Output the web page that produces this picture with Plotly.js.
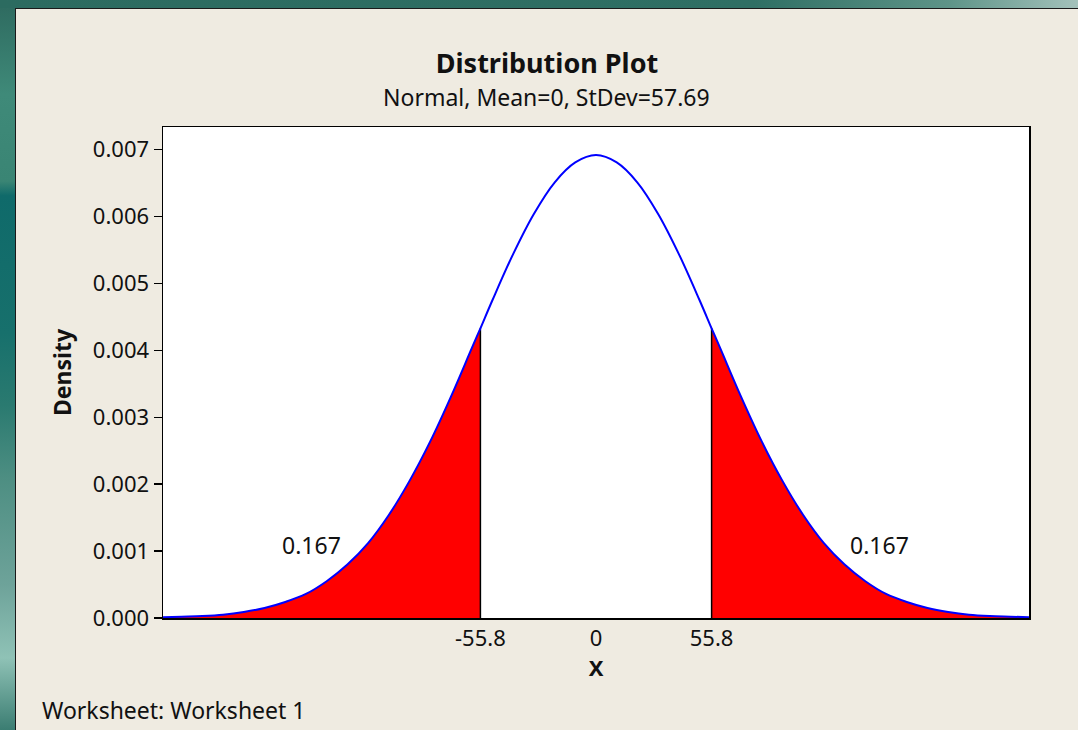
<!DOCTYPE html>
<html>
<head>
<meta charset="utf-8">
<script src="https://cdn.plot.ly/plotly-3.0.1.min.js"></script>
<style>
  html, body { margin:0; padding:0; width:1078px; height:730px; overflow:hidden; }
  body { background: linear-gradient(to right, #2c6b60 0%, #2f6f64 70%, #5e9488 88%, #a4c2bb 100%); position:relative; }
  #leftstrip { position:absolute; left:0; top:8px; width:15px; height:722px;
    background: linear-gradient(to bottom, #2f6c61 0%, #3f8a79 12%, #3a8574 24%, #0f6a6a 26%, #17706c 45%, #2a7a70 55%, #4d8e82 65%, #6ea39a 80%, #8fc2b6 90%, #3b7d72 100%); }
  #frame { position:absolute; left:15px; top:8px; width:1063px; height:722px; border-left:1px solid #1a1a1a; border-top:1px solid #1a1a1a; box-sizing:border-box; background:#EFEBE1; }
  #chart { position:absolute; left:16px; top:9px; width:1062px; height:721px; }
</style>
</head>
<body>
<div id="leftstrip"></div>
<div id="frame"></div>
<div id="chart"></div>
<script>
// Values
const xValues = [-210,-200,-190,-180,-170,-160,-150,-140,-130,-120,-110,-100,-90,-80,-70,-60,-55.8,-50,-40,-30,-20,-10,0,
                 10,20,30,40,50,55.8,60,70,80,90,100,110,120,130,140,150,160,170,180,190,200,210];
const densityValues = [0.00001,0.00002,0.00003,0.00005,0.00009,0.00015,0.00024,0.00036,0.00055,0.00080,0.00112,0.00154,0.00205,0.00264,0.00331,0.00403,0.00433,0.00475,0.00544,0.00604,0.00651,0.00681,0.00692,
                       0.00681,0.00651,0.00604,0.00544,0.00475,0.00433,0.00403,0.00331,0.00264,0.00205,0.00154,0.00112,0.00080,0.00055,0.00036,0.00024,0.00015,0.00009,0.00005,0.00003,0.00002,0.00001];
const cutLow = -55.8;
const cutHigh = 55.8;
const tailLabels = ["0.167", "0.167"];
const tailLabelX = [-137.5, 137];
const tailLabelY = [0.00109, 0.00109];
const xTickVals = [-55.8, 0, 55.8];
const xTickText = ["-55.8", "0", "55.8"];
const yTickVals = [0, 0.001, 0.002, 0.003, 0.004, 0.005, 0.006, 0.007];
const yTickText = ["0.000", "0.001", "0.002", "0.003", "0.004", "0.005", "0.006", "0.007"];
const titleText = "Distribution Plot";
const subtitleText = "Normal, Mean=0, StDev=57.69";
const footerText = "Worksheet: Worksheet 1";

const FONT = "Noto Sans, DejaVu Sans, sans-serif";

const leftX = [], leftY = [], rightX = [], rightY = [];
xValues.forEach((x, i) => {
  if (x <= cutLow) { leftX.push(x); leftY.push(densityValues[i]); }
  if (x >= cutHigh) { rightX.push(x); rightY.push(densityValues[i]); }
});
const yAtLow = densityValues[xValues.indexOf(cutLow)];
const yAtHigh = densityValues[xValues.indexOf(cutHigh)];

const traces = [
  { x: leftX, y: leftY, type: 'scatter', mode: 'lines', fill: 'tozeroy', fillcolor: '#FF0000',
    line: { width: 0, shape: 'spline', color: '#FF0000' }, hoverinfo: 'skip' },
  { x: rightX, y: rightY, type: 'scatter', mode: 'lines', fill: 'tozeroy', fillcolor: '#FF0000',
    line: { width: 0, shape: 'spline', color: '#FF0000' }, hoverinfo: 'skip' },
  { x: [cutLow, cutLow], y: [0, yAtLow], type: 'scatter', mode: 'lines', line: { color: '#000000', width: 1.5 } },
  { x: [cutHigh, cutHigh], y: [0, yAtHigh], type: 'scatter', mode: 'lines', line: { color: '#000000', width: 1.5 } },
  { x: xValues, y: densityValues, type: 'scatter', mode: 'lines', line: { color: '#0000FF', width: 2, shape: 'spline' } }
];

const annotations = [
  { xref: 'paper', yref: 'paper', x: 0.443, y: 1.062, xanchor: 'center', yanchor: 'middle',
    text: subtitleText, showarrow: false, font: { family: FONT, size: 23, color: '#111' } },
  { xref: 'paper', yref: 'paper', x: -0.142, y: -0.187, xanchor: 'left', yanchor: 'middle',
    text: footerText, showarrow: false, font: { family: FONT, size: 23, color: '#111' } }
];
tailLabels.forEach((t, i) => annotations.push({
  x: tailLabelX[i], y: tailLabelY[i], xref: 'x', yref: 'y', text: t, showarrow: false,
  xanchor: 'center', yanchor: 'middle', font: { family: FONT, size: 23, color: '#111' }
}));

const layout = {
  width: 1062, height: 721,
  margin: { l: 147, r: 49, t: 118, b: 112 },
  paper_bgcolor: '#EFEBE1',
  plot_bgcolor: '#FFFFFF',
  showlegend: false,
  font: { family: FONT, color: '#111' },
  title: { text: '<b>' + titleText + '</b>', x: 0.5, xref: 'container', xanchor: 'center',
           y: 0.925, yref: 'container', yanchor: 'middle', font: { family: FONT, size: 27, color: '#111' } },
  xaxis: {
    range: [-209, 209], showgrid: false, zeroline: false,
    showline: true, mirror: true, linecolor: '#000', linewidth: 1.5,
    tickvals: xTickVals, ticktext: xTickText, ticks: '',
    tickfont: { family: FONT, size: 22, color: '#111' },
    title: { text: '<b>X</b>', font: { family: FONT, size: 22, color: '#111' }, standoff: 2 }
  },
  yaxis: {
    range: [0, 0.00734], showgrid: false, zeroline: false,
    showline: true, mirror: true, linecolor: '#000', linewidth: 1.5,
    tickvals: yTickVals, ticktext: yTickText, ticks: 'outside', ticklen: 8, tickwidth: 1.5, tickcolor: '#000',
    tickfont: { family: FONT, size: 22, color: '#111' },
    title: { text: '<b>Density</b>', font: { family: FONT, size: 23, color: '#111' }, standoff: 15 }
  },
  annotations: annotations
};

Plotly.newPlot('chart', traces, layout, { displayModeBar: false, staticPlot: true });
</script>
</body>
</html>
